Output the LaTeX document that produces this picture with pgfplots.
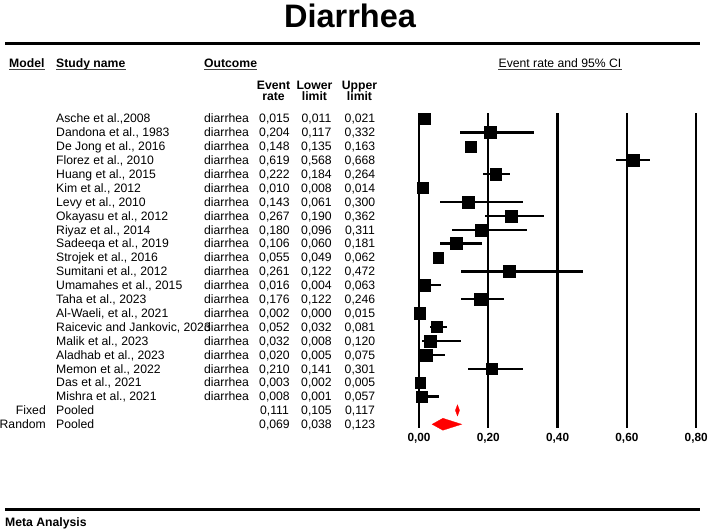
\documentclass[border=0pt]{standalone}
\usepackage{fontspec}
\setmainfont{Liberation Sans}
\usepackage{pgfplots}
\usepackage{pgfplotstable}
\pgfplotsset{compat=1.18}

% study rows: event rate, 95% CI, half side of the square (pt)
\pgfplotstableread[col sep=semicolon]{
name;rate;lo;hi;w
Asche et al.,2008;0.015;0.011;0.021;5.5
Dandona et al., 1983;0.204;0.117;0.332;6
De Jong et al., 2016;0.148;0.135;0.163;5.5
Florez et al., 2010;0.619;0.568;0.668;6
Huang et al., 2015;0.222;0.184;0.264;5.6
Kim et al., 2012;0.010;0.008;0.014;5.5
Levy et al., 2010;0.143;0.061;0.300;6
Okayasu et al., 2012;0.267;0.190;0.362;6
Riyaz et al., 2014;0.180;0.096;0.311;6
Sadeeqa et al., 2019;0.106;0.060;0.181;6
Strojek et al., 2016;0.055;0.049;0.062;5.3
Sumitani et al., 2012;0.261;0.122;0.472;6
Umamahes et al., 2015;0.016;0.004;0.063;5.8
Taha et al., 2023;0.176;0.122;0.246;6
Al-Waeli, et al., 2021;0.002;0.000;0.015;5.8
Raicevic and Jankovic, 2023;0.052;0.032;0.081;5.5
Malik et al., 2023;0.032;0.008;0.120;6
Aladhab et al., 2023;0.020;0.005;0.075;6
Memon et al., 2022;0.210;0.141;0.301;5.8
Das et al., 2021;0.003;0.002;0.005;5.3
Mishra et al., 2021;0.008;0.001;0.057;5.8
}\studies

\pgfplotstableread[col sep=semicolon]{
model;rate;lo;hi
Fixed;0.111;0.105;0.117
Random;0.069;0.038;0.123
}\pooled

\tikzset{
  cell/.style={inner sep=0pt, text height=8.7pt, text depth=0pt,
    font=\fontsize{12.2}{14}\selectfont},
  bcell/.style={cell, font=\fontsize{12.2}{14}\selectfont\bfseries},
}
\newcommand\num[1]{\pgfmathprintnumber[fixed,fixed zerofill,precision=3,use comma,assume math mode=true]{#1}}

\begin{document}
\begin{tikzpicture}
\path[use as bounding box] (0,0) rectangle (708pt,-531pt);

\begin{axis}[
  at={(419pt,-428pt)}, anchor=south west,
  scale only axis, width=277.2pt, height=315pt,
  xmin=0, xmax=0.8, ymin=0.604, ymax=23.27, y dir=reverse,
  clip=false,
  axis line style={draw=none},
  ytick=\empty,
  xtick={0,0.2,0.4,0.6,0.8},
  major tick length=0pt,
  xmajorgrids, grid style={black, line width=2.3pt},
  /pgf/number format/assume math mode=true,
  xticklabel style={font=\fontsize{11.8}{12}\selectfont\bfseries, yshift=-2pt,
    /pgf/number format/fixed, /pgf/number format/fixed zerofill,
    /pgf/number format/precision=2, /pgf/number format/use comma},
]
% confidence intervals
\addplot[only marks, mark=none, forget plot,
  error bars/.cd, x dir=both, x explicit, error mark=none,
  error bar style={black, line width=2.3pt}]
  table[x=rate, y expr=\coordindex+1,
        x error plus expr=\thisrow{hi}-\thisrow{rate},
        x error minus expr=\thisrow{rate}-\thisrow{lo}] {\studies};
% point estimates
\addplot[scatter, only marks, mark=square*,
  point meta=\thisrow{rate},
  scatter/use mapped color={draw=black, fill=black},
  mark options={line width=0.2pt},
  visualization depends on={\thisrow{w} \as \wsz},
  scatter/@pre marker code/.append style={/tikz/mark size=\wsz}]
  table[x=rate, y expr=\coordindex+1] {\studies};
% pooled estimates
\addplot[fill=red, draw=red, line width=0.3pt]
  coordinates {(0.105,22) (0.111,21.6) (0.117,22) (0.111,22.4)} -- cycle;
\addplot[fill=red, draw=red, line width=0.3pt]
  coordinates {(0.038,23) (0.069,22.57) (0.123,23) (0.069,23.43)} -- cycle;
\end{axis}

% title and rules
\node[inner sep=0pt, text height=23pt, text depth=0pt,
  font=\fontsize{32.5}{34}\selectfont\bfseries] at (350pt,-16pt) {Diarrhea};
\draw[line width=3pt] (5pt,-43pt) -- (700pt,-43pt);
\draw[line width=3pt] (5pt,-509pt) -- (700pt,-509pt);
\node[bcell, anchor=west] at (5pt,-522pt) {Meta Analysis};

% header
\node[bcell, anchor=west] (hm) at (9pt,-62.7pt) {Model};
\node[bcell, anchor=west] (hs) at (56pt,-62.7pt) {Study name};
\node[bcell, anchor=west] (ho) at (204pt,-62.7pt) {Outcome};
\node[cell] (he) at (560pt,-62.7pt) {Event rate and 95\% CI};
\foreach \n in {hm,hs,ho,he}
  \draw[line width=1.2pt, black!75] ([yshift=-2.4pt]\n.south west) -- ([yshift=-2.4pt]\n.south east);
\node[bcell] at (273.5pt,-85pt) {Event};
\node[bcell] at (273.5pt,-96.5pt) {rate};
\node[bcell] at (314.5pt,-85pt) {Lower};
\node[bcell] at (314.5pt,-96.5pt) {limit};
\node[bcell] at (359.5pt,-85pt) {Upper};
\node[bcell] at (359.5pt,-96.5pt) {limit};

% study rows
\foreach \i in {0,...,20}{
  \pgfmathsetmacro\yy{118.5+13.897*\i}
  \pgfplotstablegetelem{\i}{name}\of\studies
  \node[cell, anchor=west] at (56pt,-\yy pt) {\pgfplotsretval};
  \node[cell, anchor=west] at (204pt,-\yy pt) {diarrhea};
  \pgfplotstablegetelem{\i}{rate}\of\studies
  \node[cell] at (274.5pt,-\yy pt) {\num{\pgfplotsretval}};
  \pgfplotstablegetelem{\i}{lo}\of\studies
  \node[cell] at (316.5pt,-\yy pt) {\num{\pgfplotsretval}};
  \pgfplotstablegetelem{\i}{hi}\of\studies
  \node[cell] at (360pt,-\yy pt) {\num{\pgfplotsretval}};
}
% pooled rows
\foreach \i in {0,1}{
  \pgfmathsetmacro\yy{118.5+13.897*(21+\i)}
  \pgfplotstablegetelem{\i}{model}\of\pooled
  \node[cell, anchor=east] at (46pt,-\yy pt) {\pgfplotsretval};
  \node[cell, anchor=west] at (56pt,-\yy pt) {Pooled};
  \pgfplotstablegetelem{\i}{rate}\of\pooled
  \node[cell] at (274.5pt,-\yy pt) {\num{\pgfplotsretval}};
  \pgfplotstablegetelem{\i}{lo}\of\pooled
  \node[cell] at (316.5pt,-\yy pt) {\num{\pgfplotsretval}};
  \pgfplotstablegetelem{\i}{hi}\of\pooled
  \node[cell] at (360pt,-\yy pt) {\num{\pgfplotsretval}};
}
\end{tikzpicture}
\end{document}
